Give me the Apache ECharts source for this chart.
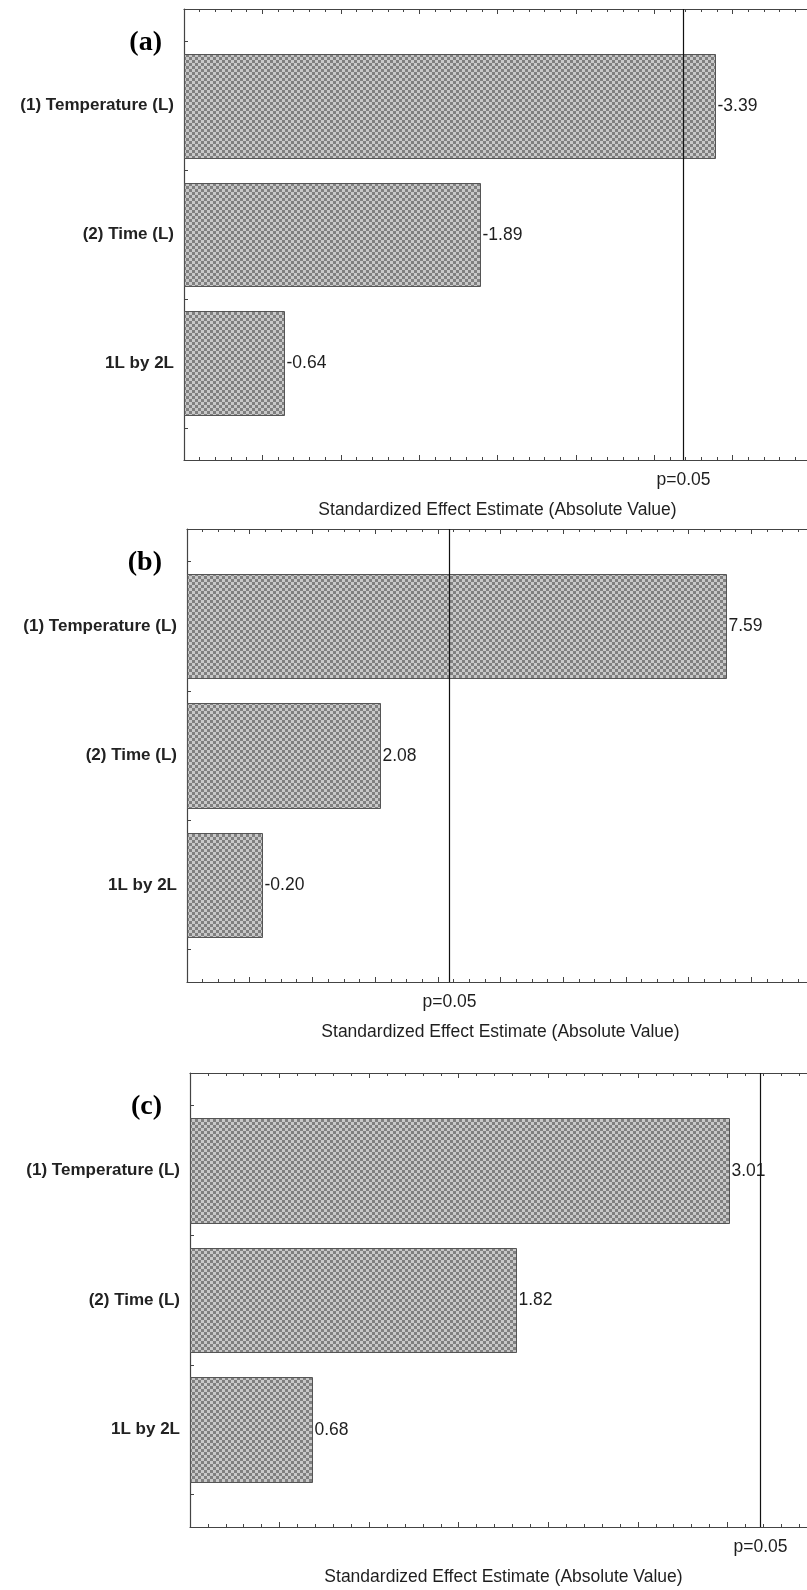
<!DOCTYPE html>
<html>
<head>
<meta charset="utf-8">
<script src="https://cdn.jsdelivr.net/npm/echarts@6/dist/echarts.min.js"></script>
<style>
  html, body { margin: 0; padding: 0; background: #ffffff; }
  #chart { width: 807px; height: 1590px; }
</style>
</head>
<body>
<div id="chart"></div>
<script>
// Pareto charts of standardized effects for three responses
const factors = ['(1) Temperature (L)', '(2) Time (L)', '1L by 2L'];
const effectsA = [-3.39, -1.89, -0.64];
const effectsB = [7.59, 2.08, -0.20];
const effectsC = [3.01, 1.82, 0.68];
const panelLetters = ['(a)', '(b)', '(c)'];
const critT = [3.182, 3.182, 3.182];
const critLabel = 'p=0.05';
const axisTitle = 'Standardized Effect Estimate (Absolute Value)';

// axis ranges per panel
const xMins = [0, -1, 0];
const xMaxs = [4, 9, 3.5];
const xSteps = [0.5, 1, 0.5];
const xMinorSplits = [5, 4, 5];

const panels = [effectsA, effectsB, effectsC];

// plot boxes (the right border runs just past the page edge)
const boxes = [
  { left: 184, top: 9, width: 627, height: 451 },
  { left: 187, top: 529, width: 627, height: 453 },
  { left: 190, top: 1073, width: 627, height: 454 }
];

const BAR_FRAC = 0.806;       // bar thickness as a share of one category band
const Y_MIN = -0.25, Y_MAX = factors.length + 0.25;

const SANS = '"Liberation Sans", Arial, sans-serif';
const SERIF = '"Liberation Serif", "Times New Roman", serif';
const AXIS_COLOR = '#444444';
const TEXT_COLOR = '#1e1e1e';

// fine checkered fill used for the bars
function makeChecker() {
  const c = document.createElement('canvas');
  c.width = 6; c.height = 6;
  const g = c.getContext('2d');
  g.fillStyle = '#c8c8c8';
  g.fillRect(0, 0, 6, 6);
  g.fillStyle = '#808080';
  g.fillRect(0, 0, 3, 3);
  g.fillRect(3, 3, 3, 3);
  return c;
}
const checker = { image: makeChecker(), repeat: 'repeat' };

function fmt(v) { return v.toFixed(2); }

function barRenderer(p) {
  return function (params, api) {
    const i = api.value(0);
    const eff = api.value(1);
    const mag = Math.abs(eff);
    const half = BAR_FRAC / 2;
    const a = api.coord([xMins[p], i + 0.5 - half]);
    const b = api.coord([mag, i + 0.5 + half]);
    const x0 = Math.round(a[0]) + 0.5;
    const x1 = Math.round(b[0]) + 0.5;
    const y0 = Math.round(Math.min(a[1], b[1])) + 0.5;
    const y1 = Math.round(Math.max(a[1], b[1])) + 0.5;
    return {
      type: 'group',
      children: [
        {
          type: 'rect',
          shape: { x: x0, y: y0, width: x1 - x0, height: y1 - y0 },
          style: { fill: checker, stroke: '#555555', lineWidth: 1 }
        },
        {
          type: 'text',
          x: x1 + 2,
          y: (y0 + y1) / 2,
          style: {
            text: fmt(eff),
            fill: TEXT_COLOR,
            font: '17.5px ' + SANS,
            align: 'left',
            verticalAlign: 'middle'
          }
        }
      ]
    };
  };
}

function critRenderer(params, api) {
  const t = api.value(0);
  const a = api.coord([t, Y_MIN]);
  const b = api.coord([t, Y_MAX]);
  const x = Math.round(a[0]) + 0.5;
  const yTop = Math.min(a[1], b[1]);
  const yBot = Math.max(a[1], b[1]);
  return {
    type: 'group',
    children: [
      {
        type: 'line',
        shape: { x1: x, y1: yTop, x2: x, y2: yBot },
        style: { stroke: '#111111', lineWidth: 1.2 }
      },
      {
        type: 'text',
        x: x,
        y: yBot + 20,
        style: {
          text: critLabel,
          fill: TEXT_COLOR,
          font: '17.5px ' + SANS,
          align: 'center',
          verticalAlign: 'middle'
        }
      }
    ]
  };
}

const grid = [], xAxis = [], yAxis = [], series = [], graphic = [];

panels.forEach((effects, p) => {
  grid.push(Object.assign({ containLabel: false, outerBoundsMode: 'none' }, boxes[p]));

  const common = {
    type: 'value',
    gridIndex: p,
    min: xMins[p],
    max: xMaxs[p],
    interval: xSteps[p],
    axisLine: { show: true, onZero: false, lineStyle: { color: AXIS_COLOR, width: 1.2 } },
    axisTick: { show: true, inside: true, length: 5, lineStyle: { color: AXIS_COLOR } },
    minorTick: { show: true, splitNumber: xMinorSplits[p], length: 3, lineStyle: { color: AXIS_COLOR } },
    axisLabel: { show: false },
    splitLine: { show: false },
    minorSplitLine: { show: false }
  };

  xAxis.push(Object.assign({}, common, {
    position: 'bottom',
    name: axisTitle,
    nameLocation: 'middle',
    nameGap: 41,
    nameTextStyle: { fontFamily: SANS, fontSize: 17.5, color: TEXT_COLOR }
  }));
  xAxis.push(Object.assign({}, common, { position: 'top' }));

  yAxis.push({
    type: 'value',
    gridIndex: p,
    position: 'left',
    inverse: true,
    min: Y_MIN,
    max: Y_MAX,
    interval: 0.25,
    axisLine: { show: true, onZero: false, lineStyle: { color: AXIS_COLOR, width: 1.2 } },
    axisTick: { show: true, inside: true, length: 4, lineStyle: { color: AXIS_COLOR } },
    splitLine: { show: false },
    axisLabel: {
      margin: 10,
      fontFamily: SANS,
      fontWeight: 'bold',
      fontSize: 17,
      color: '#222222',
      formatter: function (v) {
        const k = Math.round(v - 0.5);
        if (Math.abs(v - 0.5 - k) < 1e-6 && k >= 0 && k < factors.length) return factors[k];
        return '';
      }
    }
  });

  series.push({
    type: 'custom',
    xAxisIndex: p * 2,
    yAxisIndex: p,
    clip: false,
    z: 2,
    renderItem: barRenderer(p),
    encode: { x: 1, y: 0 },
    data: effects.map((v, i) => [i, v])
  });

  series.push({
    type: 'custom',
    xAxisIndex: p * 2,
    yAxisIndex: p,
    clip: false,
    z: 3,
    renderItem: critRenderer,
    encode: { x: 0 },
    data: [[critT[p]]]
  });

  graphic.push({
    type: 'text',
    x: 162,
    y: boxes[p].top + 34,
    style: {
      text: panelLetters[p],
      font: 'bold 28px ' + SERIF,
      fill: '#000000',
      align: 'right',
      verticalAlign: 'middle'
    }
  });
});

const chart = echarts.init(document.getElementById('chart'), null, { renderer: 'canvas' });
chart.setOption({
  animation: false,
  backgroundColor: '#ffffff',
  grid: grid,
  xAxis: xAxis,
  yAxis: yAxis,
  series: series,
  graphic: graphic
});
</script>
</body>
</html>
